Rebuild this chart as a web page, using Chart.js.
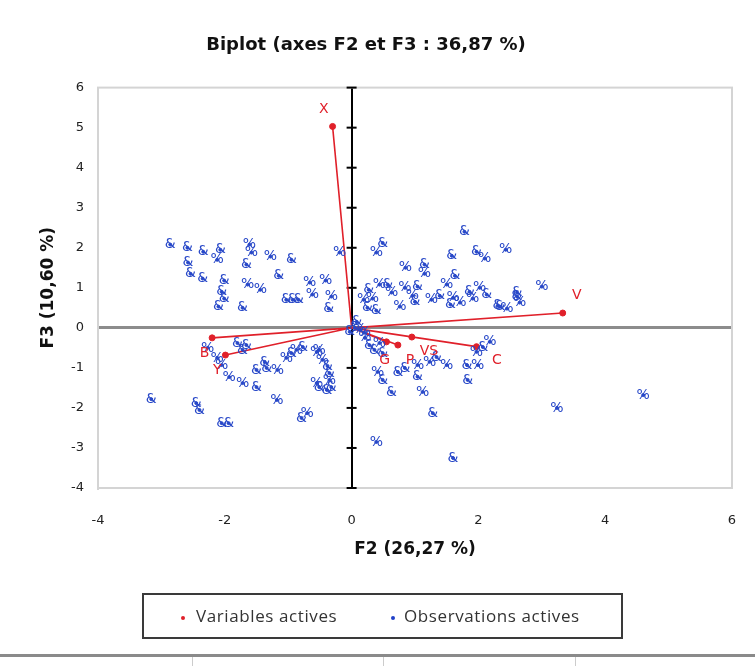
<!DOCTYPE html>
<html>
<head>
<meta charset="utf-8">
<script src="https://cdn.jsdelivr.net/npm/chart.js@4.4.1/dist/chart.umd.min.js"></script>
<style>
  body { margin: 0; background: #fff; }
  #wrap { position: relative; width: 755px; height: 666px; overflow: hidden; }
  #biplot { position: absolute; left: 0; top: 0; }
  #legend {
    position: absolute; left: 142px; top: 593px; width: 477px; height: 42px;
    border: 2px solid #3a3a3a; font-family: "Open Sans", sans-serif; font-size: 17px;
    letter-spacing: 0.6px; color: #333;
  }
  #legend span { position: absolute; top: 9px; }
  #legend i { position: absolute; top: 21px; width: 4px; height: 4px; border-radius: 50%; }
  #rule { position: absolute; left: 0; top: 654px; width: 755px; height: 3px; background: #8a8a8a; }
  .tick { position: absolute; top: 657px; width: 1px; height: 9px; background: #ccc; }
</style>
</head>
<body>
<div id="wrap">
  <canvas id="biplot" width="755" height="666"></canvas>
  <div id="legend">
    <i style="left:37px;background:#e0202a"></i><span style="left:52px">Variables actives</span>
    <i style="left:247px;background:#2040c8"></i><span style="left:260px">Observations actives</span>
  </div>
  <div id="rule"></div>
  <div class="tick" style="left:192px"></div>
  <div class="tick" style="left:383px"></div>
  <div class="tick" style="left:575px"></div>
</div>
<script>
// active variables (F2, F3 coordinates)
const varNames = ["X", "V", "C", "VS", "G", "P", "B", "Y"];
const varX = [-0.30, 3.33, 1.97, 0.95, 0.73, 0.55, -2.20, -1.99];
const varY = [5.03, 0.37, -0.47, -0.23, -0.43, -0.35, -0.25, -0.68];
const varLabelX = [-0.44, 3.55, 2.29, 1.22, 0.52, 0.92, -2.32, -2.12];
const varLabelY = [5.45, 0.80, -0.80, -0.58, -0.80, -0.80, -0.63, -1.05];

// active observations
const obsX = [
  -2.86, -2.59, -2.34, -2.07, -2.12, -1.61, -1.58, -1.66, -1.28, -0.95,
  -2.58, -2.54, -2.35, -2.01, -1.15, -1.64, -1.44, -2.05, -2.01, -2.10,
  -1.72, -0.66, -0.41, -0.62, -1.03, -0.93, -0.84, -0.32, -0.36, -0.19,
  0.49, 0.39, 1.78, 1.58, 1.97, 2.10, 2.43, 0.85, 1.15, 1.15,
  1.63, 0.27, 0.44, 0.57, 0.63, 0.25, 0.33, 0.39, 0.84, 0.96,
  1.00, 0.76, 1.04, 1.26, 1.50, 1.60, 1.86, 2.02, 2.13, 1.91,
  1.71, 2.34, 2.45, 2.61, 1.56, 3.00, 2.61, 2.65, 2.31, 0.19,
  1.39, -3.16, -2.45, -2.40, -2.05, -1.94, -2.27, -1.80, -1.66, -2.12,
  -2.05, -1.93, -1.72, -1.50, -1.50, -1.37, -1.17, -1.18, -0.95, -0.87,
  -0.77, -0.55, -0.46, -0.35, -0.32, -0.55, -0.39, -0.79, -0.70, -0.51,
  -0.38, -0.35, -0.51, -1.34, -1.03, -1.72, 0.28, 0.44, 0.49, 0.73,
  0.41, 0.49, 0.63, 1.04, 1.04, 1.23, 1.50, 1.12, 1.28, 0.39,
  1.60, 1.82, 1.99, 1.83, 2.18, 2.07, 1.97, 3.24, 4.60, 1.34,
  0.84, 0.21, 0.36, 0.05, 0.13, -0.03, 0.20, 0.08
];
const obsY = [
  2.08, 2.00, 1.90, 1.95, 1.70, 2.08, 1.88, 1.58, 1.78, 1.70,
  1.63, 1.35, 1.23, 1.18, 1.30, 1.08, 0.95, 0.90, 0.73, 0.53,
  0.50, 1.13, 1.18, 0.83, 0.70, 0.70, 0.70, 0.78, 0.48, 1.88,
  2.12, 1.88, 2.40, 1.80, 1.90, 1.73, 1.95, 1.50, 1.58, 1.35,
  1.30, 0.95, 1.08, 1.08, 0.88, 0.50, 0.73, 0.43, 1.00, 0.80,
  0.65, 0.53, 1.03, 0.70, 1.08, 0.75, 0.90, 1.00, 0.83, 0.73,
  0.63, 0.53, 0.48, 0.88, 0.58, 1.03, 0.78, 0.63, 0.55, 0.70,
  0.80, -1.78, -1.88, -2.05, -2.38, -2.38, -0.50, -0.38, -0.43, -0.75,
  -0.93, -1.23, -1.38, -1.48, -1.05, -0.85, -1.05, -1.80, -0.63, -0.55,
  -0.48, -0.60, -0.80, -1.13, -1.48, -1.38, -1.55, -2.25, -2.13, -0.55,
  -0.95, -1.30, -1.48, -1.00, -0.75, -0.55, -0.43, -0.38, -0.63, -1.10,
  -1.10, -1.30, -1.60, -0.93, -1.22, -0.85, -0.93, -1.60, -2.13, -2.85,
  -3.25, -0.93, -0.93, -1.30, -0.35, -0.48, -0.60, -2.00, -1.68, -0.73,
  -1.00, -0.25, -0.55, 0.00, -0.05, -0.10, -0.12, 0.15
];
const obsLabels = (
  "&&&&%%%&%&" + "&&&&&%%&&&" + "&%%%&&&%&%" +
  "&%&&&%%%&%" + "&&%&%&%&%%" + "&%&%%%&%&%" +
  "%&%&&%&%&%" + "&&&&&&%&&%" + "%%%&&&%%&%" +
  "&%%&&%&&%%" + "&%&&%&&%&&" + "%&&%&%%%&%" +
  "&&%&%&%%%&" + "&%&&%&%&"
).split("");

const RED = "#e0202a";
const BLUE = "#2848c8";

const toPoints = (xs, ys) => xs.map((x, i) => ({ x: x, y: ys[i] }));

// origin -> variable segments, broken by empty points
const vectorData = [];
varX.forEach((x, i) => {
  vectorData.push({ x: 0, y: 0 }, { x: x, y: varY[i] }, { x: null, y: null });
});

const biplotDecor = {
  id: "biplotDecor",
  beforeDatasetsDraw(chart) {
    const { ctx, chartArea: a, scales } = chart;
    const x0 = scales.x.getPixelForValue(0);
    ctx.save();
    ctx.strokeStyle = "#d4d4d4";
    ctx.lineWidth = 2;
    ctx.strokeRect(a.left, a.top, a.right - a.left, a.bottom - a.top);
    // tick marks on the vertical axis
    ctx.strokeStyle = "#000";
    ctx.lineWidth = 2;
    for (let v = -4; v <= 6; v++) {
      const y = scales.y.getPixelForValue(v);
      ctx.beginPath();
      ctx.moveTo(x0 - 5, y);
      ctx.lineTo(x0 + 5, y);
      ctx.stroke();
    }
    ctx.restore();
  },
  afterDatasetsDraw(chart) {
    const { ctx, scales } = chart;
    ctx.save();
    ctx.textAlign = "center";
    ctx.textBaseline = "middle";
    ctx.font = "14px 'DejaVu Sans'";
    ctx.fillStyle = BLUE;
    chart.getDatasetMeta(2).data.forEach((pt, i) => {
      ctx.fillText(obsLabels[i], pt.x, pt.y);
    });
    ctx.fillStyle = RED;
    ctx.font = "14px 'DejaVu Sans'";
    varNames.forEach((name, i) => {
      ctx.fillText(name, scales.x.getPixelForValue(varLabelX[i]), scales.y.getPixelForValue(varLabelY[i]));
    });
    ctx.restore();
  }
};

new Chart(document.getElementById("biplot"), {
  type: "scatter",
  data: {
    datasets: [
      {
        label: "vectors",
        data: vectorData,
        showLine: true,
        spanGaps: false,
        borderColor: RED,
        borderWidth: 1.6,
        pointRadius: 0,
        order: 3
      },
      {
        label: "Variables actives",
        data: toPoints(varX, varY),
        backgroundColor: RED,
        borderColor: RED,
        pointRadius: 3,
        order: 2
      },
      {
        label: "Observations actives",
        data: toPoints(obsX, obsY),
        backgroundColor: BLUE,
        borderColor: BLUE,
        pointRadius: 1.5,
        order: 1
      }
    ]
  },
  options: {
    responsive: false,
    animation: false,
    layout: { padding: { top: 0, right: 23, bottom: 88, left: 0 } },
    plugins: {
      legend: { display: false },
      tooltip: { enabled: false },
      title: {
        display: true,
        text: "Biplot (axes F2 et F3 : 36,87 %)",
        color: "#111",
        font: { family: "DejaVu Sans", size: 18, weight: "bold" },
        padding: { top: 35, bottom: 31 }
      }
    },
    scales: {
      x: {
        type: "linear",
        min: -4,
        max: 6,
        ticks: { stepSize: 2, padding: 25, color: "#222", font: { family: "DejaVu Sans", size: 13 } },
        grid: {
          drawTicks: false,
          color: (c) => (c.tick && c.tick.value === 0 ? "#000" : "rgba(0,0,0,0)"),
          lineWidth: 2
        },
        border: { color: "#d4d4d4", width: 2 },
        title: {
          display: true,
          text: "F2 (26,27 %)",
          color: "#111",
          font: { family: "DejaVu Sans", size: 17, weight: "bold" },
          padding: { top: 0, bottom: 18 }
        },
        afterFit: (s) => { s.height = 90; s.paddingLeft = 0; s.paddingRight = 0; }
      },
      y: {
        type: "linear",
        min: -4,
        max: 6,
        ticks: { stepSize: 1, padding: 14, color: "#222", font: { family: "DejaVu Sans", size: 13 } },
        grid: {
          drawTicks: false,
          color: (c) => (c.tick && c.tick.value === 0 ? "#8c8c8c" : "rgba(0,0,0,0)"),
          lineWidth: 3
        },
        border: { color: "#d4d4d4", width: 2 },
        title: {
          display: true,
          text: "F3 (10,60 %)",
          color: "#111",
          font: { family: "DejaVu Sans", size: 17, weight: "bold" },
          padding: { top: 38, bottom: 0 }
        },
        afterFit: (s) => { s.width = 98; }
      }
    }
  },
  plugins: [biplotDecor]
});
</script>
</body>
</html>
